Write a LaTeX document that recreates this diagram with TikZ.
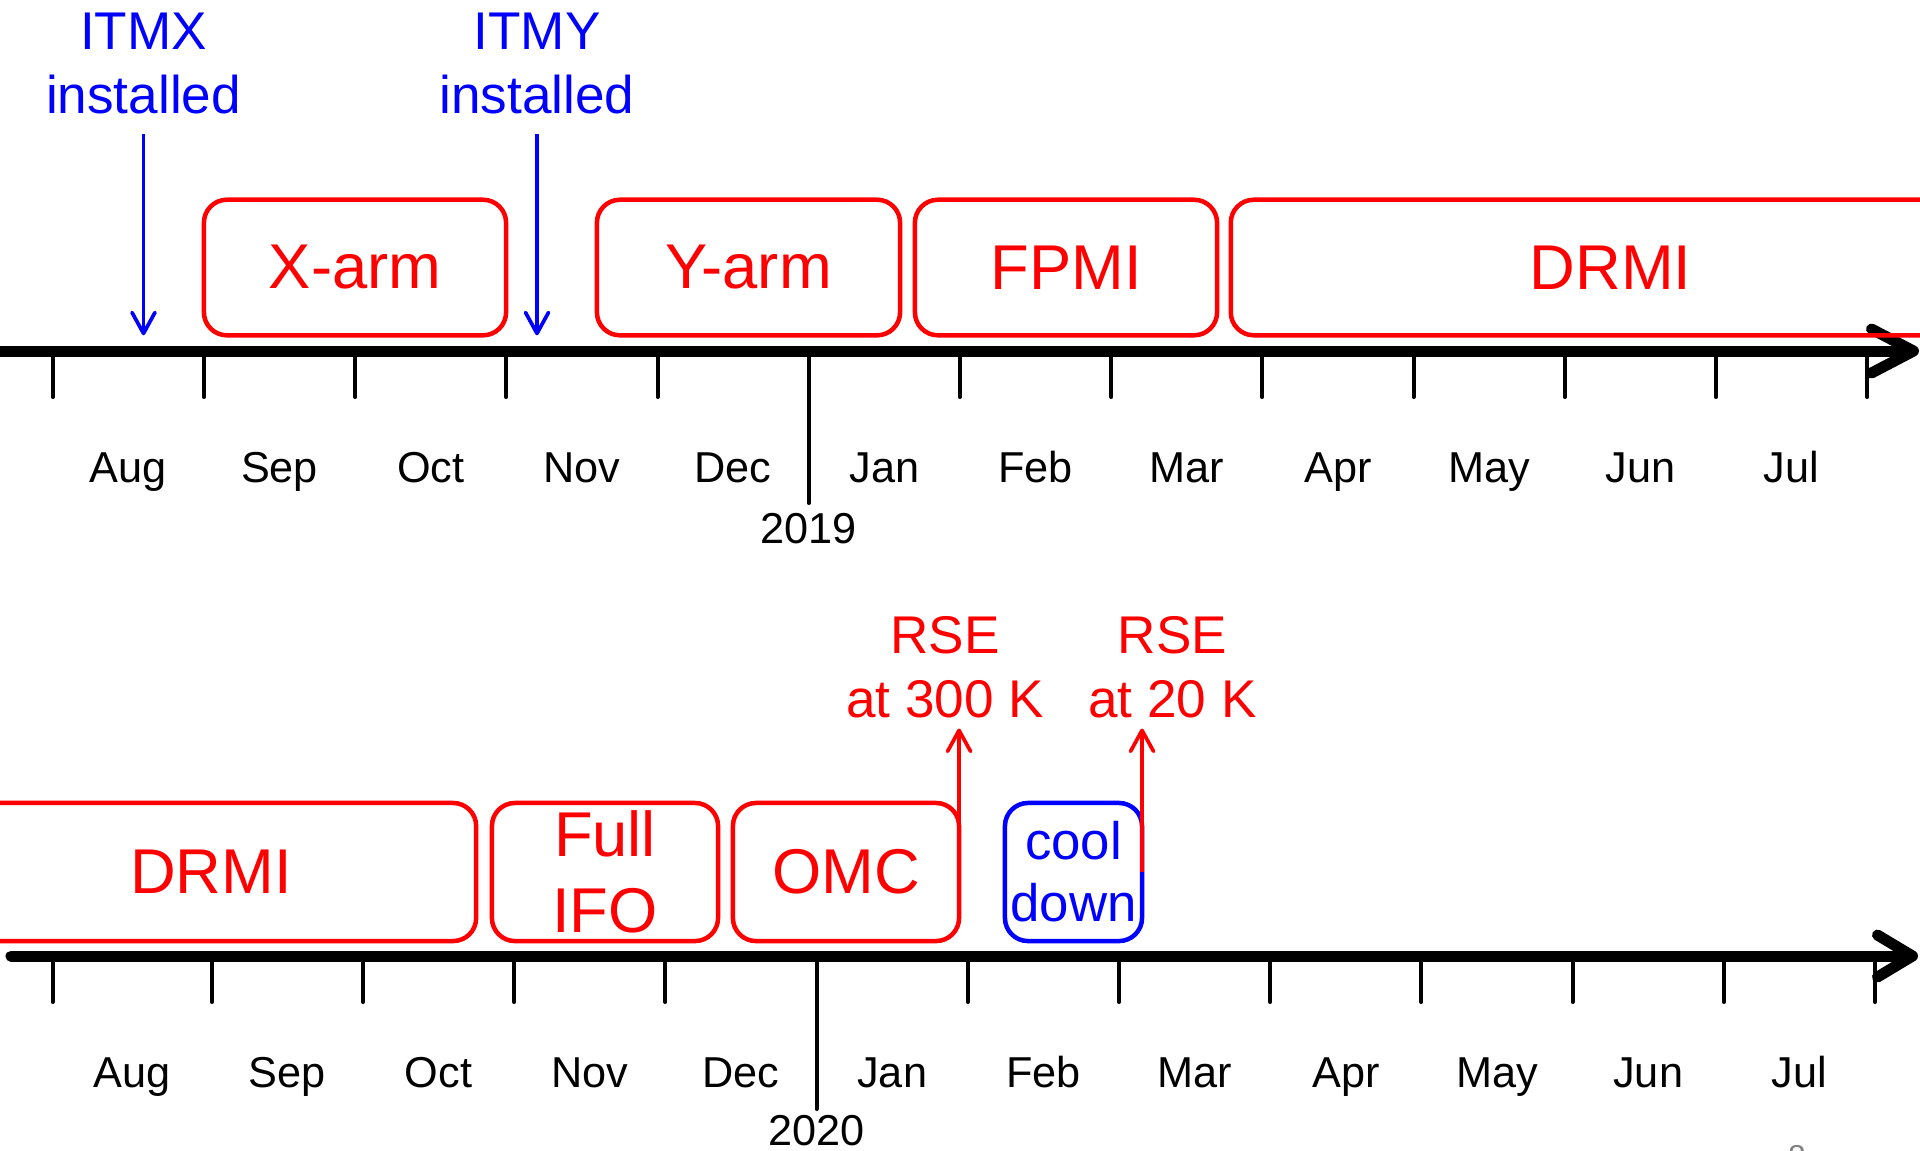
\documentclass[tikz,border=0pt]{standalone}
\usepackage{fontspec}
\setmainfont{Liberation Sans}
\usetikzlibrary{arrows.meta,calc}

\begin{document}
\begin{tikzpicture}[x=0.01cm,y=-0.01cm,
  phase/.style={draw=red,text=red,line width=0.045cm,rounded corners=0.23cm,
    outer sep=0pt,inner sep=0pt,align=center,font=\fontsize{18}{21.6}\selectfont},
  note/.style={align=center,inner sep=0.1cm,font=\fontsize{15.1}{18.2}\selectfont},
  month/.style={anchor=base,font=\fontsize{12.3}{14}\selectfont},
  timeline/.style={line width=0.11cm,-{Straight Barb[length=0.42cm,width=0.44cm,round]}},
  monthtick/.style={line width=0.04cm,line cap=round},
  eventarrow/.style={line width=0.037cm,-{Straight Barb[length=0.21cm,width=0.23cm,round]}}]
\clip (0,0) rectangle (1920,1150);
% 2018--2019 timeline
\foreach \i in {0,...,12}
  \draw[monthtick] ({52.7+151.2*\i},351) -- ({52.7+151.2*\i},397);
\draw[monthtick] (808.7,351) -- (808.7,503);
\draw[timeline] (-10,351) -- (1919,351);
\foreach \m [count=\i from 0] in {Aug,Sep,Oct,Nov,Dec,Jan,Feb,Mar,Apr,May,Jun,Jul}
  \node[month] (top\m) at ({52.7+151.2*(\i+0.5)},482) {\m};
\node[month] (y2019) at (808.7,543) {2019};
\node[phase,minimum width=3.02cm,minimum height=1.355cm] (xarm) at (355,267.5) {X-arm};
\node[phase,minimum width=3.03cm,minimum height=1.355cm] (yarm) at (748.5,267.5) {Y-arm};
\node[phase,minimum width=3.02cm,minimum height=1.355cm] (fpmi) at (1066,267.5) {FPMI};
\node[phase,minimum width=7.59cm,minimum height=1.355cm] (drmitop) at (1610.5,267.5) {DRMI};
\node[note,text=blue] (itmx) at (143.5,63) {ITMX\\installed};
\node[note,text=blue] (itmy) at (537,63) {ITMY\\installed};
\draw[eventarrow,blue,shorten <=2.8pt] (itmx.south) -- (itmx.south |- xarm.south);
\draw[eventarrow,blue,shorten <=2.8pt] (itmy.south) -- (itmy.south |- yarm.south);
% 2019--2020 timeline
\draw[monthtick] (52.6,956) -- (52.6,1002);
\foreach \i in {1,...,12}
  \draw[monthtick] ({211.8+151.2*(\i-1)},956) -- ({211.8+151.2*(\i-1)},1002);
\draw[monthtick] (816.6,956) -- (816.6,1109);
\draw[timeline,line cap=round,-{Straight Barb[length=0.35cm,width=0.42cm,round]}]
  (11,956) -- (1918,956);
\foreach \m/\x in {Aug/132.2,Sep/287.4,Oct/438.6,Nov/589.8,Dec/741,Jan/892.2,
  Feb/1043.4,Mar/1194.6,Apr/1345.8,May/1497,Jun/1648.2,Jul/1799.4}
  \node[month] (bot\m) at (\x,1087) {\m};
\node[month] (y2020) at (816.6,1145) {2020};
\node[phase,minimum width=5.30cm,minimum height=1.38cm] (drmibot) at (211,872) {DRMI};
\node[phase,minimum width=2.26cm,minimum height=1.38cm] (ifo) at (605,872) {Full\\IFO};
\node[phase,minimum width=2.26cm,minimum height=1.38cm] (omc) at (846,872) {OMC};
\node[phase,draw=blue,text=blue,minimum width=1.37cm,minimum height=1.38cm,
  font=\fontsize{15}{17.6}\selectfont] (cool) at (1073.5,872) {cool\\down};
\node[note,text=red] (rsewarm) at (945,667) {RSE\\at 300 K};
\node[note,text=red] (rsecold) at (1172.5,667) {RSE\\at 20 K};
\draw[eventarrow,red] (omc.east) -- (omc.east |- rsewarm.south);
\draw[eventarrow,red] (cool.east) -- (cool.east |- rsecold.south);
\node[gray,font=\fontsize{9}{10}\selectfont] (pagenum) at (1797,1157) {8};
\end{tikzpicture}
\end{document}
